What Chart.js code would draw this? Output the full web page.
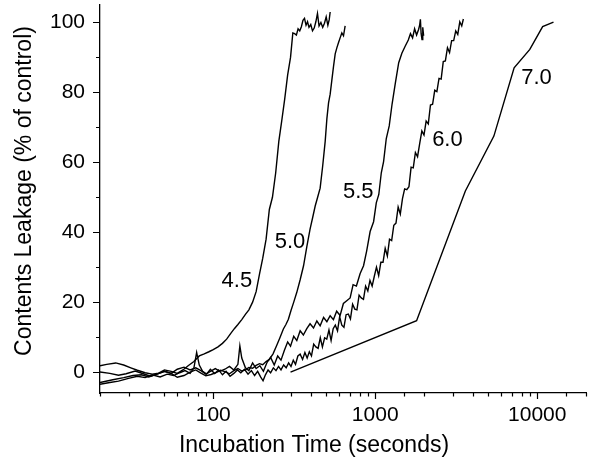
<!DOCTYPE html>
<html>
<head>
<meta charset="utf-8">
<title>Contents leakage vs incubation time</title>
<script src="https://cdn.jsdelivr.net/npm/chart.js@4.4.0/dist/chart.umd.min.js"></script>
<style>
  body { margin: 0; background: #fff; }
  canvas { display: block; }
</style>
</head>
<body>
<canvas id="leakChart" width="600" height="464"></canvas>
<script>
// time (s) and leakage (% of control) for each pH
const t45 = [
  20, 22, 25, 28, 31, 34, 38, 42, 46, 50,
  55, 60, 65, 70, 76, 82, 88, 94, 100, 107,
  114, 121, 128, 135, 142, 150, 158, 166, 175, 184,
  193, 202, 212, 222, 232, 243, 254, 265, 276, 288,
  300, 310, 318, 326, 334, 342, 350, 358, 366, 374,
  382, 390, 400, 410, 420, 430, 440, 450, 462, 474,
  486, 498, 510, 520, 527
];
const v45 = [
  1.8, 2.2, 2.6, 2.0, 1.2, 0.5, -0.2, -0.6, -0.3, 0.6,
  0.2, -0.4, 0.6, 1.8, 3.0, 4.6, 5.2, 5.8, 6.4, 7.2,
  8.2, 9.4, 11.0, 12.4, 13.6, 15.0, 16.5, 17.8, 20.0, 23.0,
  28.0, 32.5, 38.0, 46.5, 50.0, 57.0, 66.0, 72.0, 78.0, 85.0,
  90.0, 97.0, 96.8, 96.4, 98.2, 97.6, 98.8, 100.6, 101.2, 99.2,
  100.2, 98.6, 99.4, 97.6, 98.4, 100.2, 102.6, 99.0, 100.0, 98.6,
  99.8, 101.6, 99.2, 100.8, 103.0
];

const t50 = [
  20, 23, 26, 29, 33, 37, 41, 45, 50, 55,
  60, 66, 72, 78, 84, 90, 97, 104, 111, 118,
  126, 134, 142, 150, 158, 166, 175, 184, 193, 202,
  212, 222, 234, 246, 258, 271, 281, 291, 302, 314,
  328, 344, 361, 378, 396, 411, 426, 441, 457, 474,
  491, 503, 515, 527, 540, 553, 566, 580, 593, 607,
  622, 637, 652
];
const v50 = [
  0.0, -0.4, -0.9, -0.5, 0.3, -0.5, -1.2, -0.6, 0.2, -0.4,
  -1.5, -1.0, 0.0, 0.6, -0.3, -1.1, -0.7, -0.2, 0.5, 0.1,
  -0.5, 0.4, 1.0, 0.3, 0.6, 1.3, 1.1, 1.9, 2.4, 2.1,
  3.0, 3.6, 5.2, 7.5, 9.8, 12.3, 13.6, 15.1, 17.6, 20.0,
  22.8, 26.4, 30.4, 35.8, 40.9, 44.2, 47.5, 50.0, 52.6, 59.0,
  66.0, 72.5, 77.0, 79.5, 83.6, 87.5, 91.0, 92.8, 94.2, 95.6,
  97.0, 96.2, 99.0
];

const t55 = [
  20, 24, 28, 32, 36, 40, 45, 50, 55, 60,
  66, 72, 78, 84, 90, 96, 103, 110, 118, 126,
  134, 142, 146, 150, 158, 166, 175, 184, 194, 204,
  215, 226, 238, 250, 262, 275, 288, 300, 314, 328,
  344, 360, 378, 396, 416, 436, 457, 480, 503, 527,
  552, 578, 607, 636, 667, 700, 730, 765, 807, 847,
  885, 930, 977, 1015, 1052, 1090, 1126, 1170, 1220, 1270,
  1330, 1396, 1460, 1530, 1600, 1650, 1700, 1750, 1800, 1852,
  1880, 1900, 1920, 1944, 1965, 1990
];
const v55 = [
  -3.0, -2.2, -1.6, -1.0, -0.8, -1.4, -0.6, 0.2, -0.4, 0.8,
  1.4, 0.6, 1.2, 0.4, -0.6, 0.2, 1.0, 0.2, 0.8, 1.6,
  0.6, 2.2, 7.5, 4.0, 1.2, 0.4, 2.6, 1.0, 1.8, 0.2,
  2.8, 4.2, 2.0, 4.6, 3.4, 6.2, 8.6, 7.4, 10.2, 9.0,
  11.8, 10.6, 12.4, 13.8, 12.6, 14.6, 13.2, 15.6, 14.4, 16.1,
  15.0, 17.4, 16.2, 19.6, 20.4, 21.2, 25.0, 24.6, 28.2, 30.4,
  34.6, 40.2, 43.0, 48.4, 50.8, 57.0, 60.2, 66.8, 70.4, 76.6,
  82.6, 88.5, 91.2, 93.2, 95.0, 96.8, 95.6, 98.2, 96.4, 98.0,
  99.2, 100.9, 96.8, 95.1, 98.6, 96.2
];

const t60 = [
  20, 23, 26, 30, 34, 38, 42, 47, 52, 57,
  62, 67, 72, 76, 79, 82, 86, 91, 96, 102,
  108, 114, 120, 127, 134, 141, 148, 156, 164, 172,
  180, 188, 196, 203, 210, 218, 226, 235, 244, 253,
  262, 272, 282, 292, 302, 312, 322, 333, 344, 356,
  368, 380, 392, 404, 417, 430, 444, 458, 472, 487,
  502, 518, 534, 550, 567, 585, 603, 622, 641, 661,
  682, 703, 725, 748, 771, 795, 820, 846, 872, 900,
  928, 957, 987, 1018, 1050, 1083, 1117, 1152, 1188, 1225,
  1263, 1302, 1343, 1385, 1428, 1473, 1519, 1566, 1615, 1665,
  1717, 1770, 1825, 1882, 1940, 2000, 2062, 2126, 2192, 2260,
  2330, 2402, 2476, 2552, 2630, 2710, 2792, 2876, 2962, 3050,
  3140, 3232, 3326, 3420, 3500
];
const v60 = [
  -3.5, -3.0, -2.6, -1.8, -1.2, -1.6, -0.8, -1.4, -0.6, -1.0,
  -0.2, 0.4, -0.4, 1.2, 5.6, 2.0, 0.2, -0.6, 0.8, -0.4,
  0.6, -0.8, 0.2, -1.2, -0.4, 0.6, -0.2, 0.8, -0.6, 0.4,
  -1.0, 0.2, -1.4, -2.5, -0.8, 0.6, -0.2, 1.2, 0.4, 1.6,
  0.6, 2.0, 1.2, 2.6, 1.6, 3.4, 2.2, 4.6, 5.1, 3.6,
  5.6, 4.0, 5.8, 4.6, 8.0, 7.2, 6.8, 9.8, 7.2, 9.8,
  9.4, 12.0, 9.0, 12.4, 13.4, 11.8, 15.8, 13.4, 12.8, 16.4,
  16.6, 15.2, 19.4, 18.0, 17.8, 22.0, 21.2, 20.8, 24.6, 23.2,
  26.2, 24.6, 27.4, 30.0, 27.6, 31.4, 31.4, 35.4, 33.2, 38.0,
  37.6, 42.0, 42.6, 47.2, 45.2, 49.6, 52.4, 52.2, 53.0, 58.6,
  58.4, 62.8, 61.6, 65.4, 69.0, 67.8, 71.8, 71.0, 76.4, 76.6,
  80.6, 80.2, 84.0, 83.8, 88.8, 89.0, 92.8, 91.4, 94.8, 94.8,
  97.6, 96.6, 100.2, 99.0, 101.0
];

const t70 = [300, 1800, 3600, 5400, 7200, 9000, 10800, 12600];
const v70 = [0.0, 14.7, 51.8, 67.5, 87.0, 92.3, 98.8, 100.1];

// curve labels and where they sit (data coordinates)
const curveNames = ["4.5", "5.0", "5.5", "6.0", "7.0"];
const nameX = [140, 298, 785, 2790, 9900];
const nameY = [26.2, 37.1, 51.4, 66.3, 84.0];

const xTickLabels = [100, 1000, 10000];
const yTicks = [0, 10, 20, 30, 40, 50, 60, 70, 80, 90, 100];
const yTickLabels = [0, 20, 40, 60, 80, 100];

const FONT = "'Liberation Sans', Arial, sans-serif";

function toPoints(t, v) {
  return t.map((x, i) => ({ x: x, y: v[i] }));
}

function curve(t, v) {
  return {
    data: toPoints(t, v),
    showLine: true,
    borderColor: "#000",
    borderWidth: 1.4,
    pointRadius: 0,
    tension: 0,
    fill: false
  };
}

// small outward tick marks, curve names and axis titles
const decorPlugin = {
  id: "decor",
  afterDraw(chart) {
    const ctx = chart.ctx;
    const xs = chart.scales.x;
    const ys = chart.scales.y;
    const area = chart.chartArea;

    ctx.save();
    ctx.strokeStyle = "#000";
    ctx.lineWidth = 1.2;
    ctx.beginPath();
    xs.ticks.forEach(tk => {
      const px = Math.round(xs.getPixelForValue(tk.value)) + 0.5;
      const len = xTickLabels.includes(tk.value) ? 6 : 3.5;
      ctx.moveTo(px, area.bottom);
      ctx.lineTo(px, area.bottom + len);
    });
    yTicks.forEach(v => {
      const py = Math.round(ys.getPixelForValue(v)) + 0.5;
      const len = yTickLabels.includes(v) ? 7 : 4;
      ctx.moveTo(area.left - len, py);
      ctx.lineTo(area.left, py);
    });
    ctx.stroke();

    ctx.fillStyle = "#000";
    ctx.font = "22px " + FONT;
    ctx.textAlign = "center";
    ctx.textBaseline = "middle";
    curveNames.forEach((name, i) => {
      ctx.fillText(name, xs.getPixelForValue(nameX[i]), ys.getPixelForValue(nameY[i]));
    });

    ctx.font = "23px " + FONT;
    ctx.textBaseline = "alphabetic";
    ctx.fillText("Incubation Time (seconds)", 314, 452);

    ctx.translate(31, 191);
    ctx.rotate(-Math.PI / 2);
    ctx.fillText("Contents Leakage (% of control)", 0, 0);
    ctx.restore();
  }
};

document.addEventListener("DOMContentLoaded", () => {
  const ctx = document.getElementById("leakChart").getContext("2d");

  new Chart(ctx, {
    type: "scatter",
    data: {
      datasets: [
        curve(t45, v45),
        curve(t50, v50),
        curve(t55, v55),
        curve(t60, v60),
        curve(t70, v70)
      ]
    },
    options: {
      responsive: false,
      animation: false,
      layout: { padding: { top: 5, right: 14, bottom: 0, left: 0 } },
      plugins: {
        legend: { display: false },
        tooltip: { enabled: false }
      },
      scales: {
        x: {
          type: "logarithmic",
          min: 20,
          max: 20000,
          grid: { display: false, drawTicks: false },
          border: { display: true, color: "#000", width: 1.3 },
          ticks: {
            autoSkip: false,
            maxRotation: 0,
            padding: 10,
            color: "#000",
            font: { family: FONT, size: 21 },
            callback: v => xTickLabels.includes(v) ? String(v) : ""
          },
          afterFit: s => {
            s.height = 71;
            s.paddingLeft = 0;
            s.paddingRight = 0;
          }
        },
        y: {
          type: "linear",
          min: -6,
          max: 105,
          grid: { display: false, drawTicks: false },
          border: { display: true, color: "#000", width: 1.3 },
          afterBuildTicks: s => { s.ticks = yTicks.map(v => ({ value: v })); },
          ticks: {
            padding: 15,
            color: "#000",
            font: { family: FONT, size: 21 },
            callback: v => yTickLabels.includes(v) ? String(v) : ""
          },
          afterFit: s => {
            s.width = 100;
            s.paddingTop = 0;
            s.paddingBottom = 0;
          }
        }
      }
    },
    plugins: [decorPlugin]
  });
});
</script>
</body>
</html>
